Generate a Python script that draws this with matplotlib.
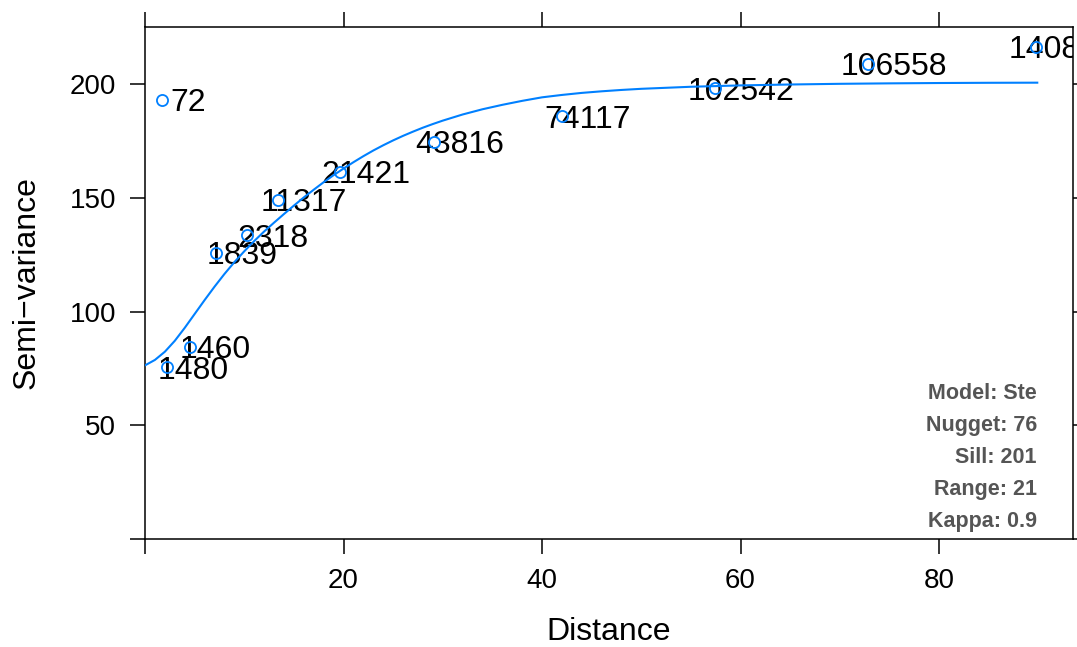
import matplotlib
matplotlib.use('Agg')
import matplotlib.pyplot as plt

# sample variogram (distance, semi-variance, number of point pairs)
dist = [1.73, 2.24, 4.49, 7.2, 10.3, 13.4, 19.6, 29.1, 42.0, 57.4, 72.8, 89.8]
gamma = [193.3, 75.6, 84.7, 126.0, 133.6, 149.3, 161.7, 174.9, 186.0, 198.3, 209.1, 216.7]
npairs = ["72", "1480", "1460", "1839", "2318", "11317", "21421", "43816",
          "74117", "102542", "106558", "140813"]

# fitted model line
model_x = [0, 1, 2, 3, 4, 5, 6, 7, 8, 9, 10, 11, 12, 13, 14, 15, 16, 17, 18, 19, 20,
           21, 22, 23, 24, 25, 26, 27, 28, 29, 30, 32, 34, 36, 38, 40, 42, 44, 46,
           48, 50, 55, 60, 65, 70, 75, 80, 85, 89.9]
model_y = [76.4, 78.8, 82.4, 87.2, 92.9, 99.0, 105.1, 111.0, 116.6, 121.8, 126.6,
           131.1, 135.3, 139.2, 143.0, 146.7, 150.3, 153.7, 157.0, 160.1, 163.0,
           165.8, 168.45, 170.95, 173.25, 175.4, 177.4, 179.25, 181.0, 182.6, 184.1,
           186.8, 189.1, 191.05, 192.8, 194.35, 195.4, 196.3, 197.0, 197.6, 198.1,
           199.0, 199.6, 200.0, 200.3, 200.5, 200.65, 200.75, 200.8]

model_info = ["Model: Ste", "Nugget: 76", "Sill: 201", "Range: 21", "Kappa: 0.9"]

xticks = [0, 20, 40, 60, 80]
yticks = [0, 50, 100, 150, 200]

plt.rcParams['font.family'] = ['Liberation Sans', 'DejaVu Sans']
blue = '#0080ff'


def plot_variogram(outName):
    fig = plt.figure(figsize=(10.77, 6.47), dpi=100)
    ax = fig.add_axes([145 / 1077, 1 - 539 / 647, 928 / 1077, 512 / 647])

    ax.plot(dist, gamma, 'o', mfc='none', mec=blue, ms=8, mew=1.3, zorder=3)
    ax.plot(model_x, model_y, color=blue, lw=1.5, zorder=3)
    for x, y, s in zip(dist, gamma, npairs):
        ax.annotate(s, (x, y), xytext=(18.7, -8.3), textcoords='offset points',
                    ha='center', va='baseline', fontsize=23, color='black',
                    annotation_clip=False, clip_on=True, zorder=2)

    # model parameters, bottom right of the panel
    for i, s in enumerate(model_info):
        ax.text(0.961, 0.2846 - i * 0.0627, s, transform=ax.transAxes,
                ha='right', va='center', fontsize=15.5, fontweight='bold',
                color='#555555')

    ax.set_xlim(0, 93.5)
    ax.set_ylim(0, 225.3)
    ax.set_xticks(xticks)
    ax.set_xticklabels([''] + [str(t) for t in xticks[1:]])
    ax.set_yticks(yticks)
    ax.set_yticklabels([''] + [str(t) for t in yticks[1:]])
    ax.tick_params(direction='out', length=10.8, width=1.1, labelsize=20, pad=10,
                   top=True, right=True, labeltop=False, labelright=False)
    for sp in ax.spines.values():
        sp.set_linewidth(1.1)

    ax.set_xlabel('Distance', fontsize=23)
    ax.set_ylabel('Semi\u2212variance', fontsize=23)
    ax.xaxis.set_label_coords(0.5, (539 - 632) / 512)
    ax.xaxis.label.set_va('center')
    ax.yaxis.set_label_coords((27 - 145) / 928, 0.5)
    ax.yaxis.label.set_va('center')

    fig.savefig(outName, dpi=100)


if __name__ == '__main__':
    plot_variogram("out.png")
